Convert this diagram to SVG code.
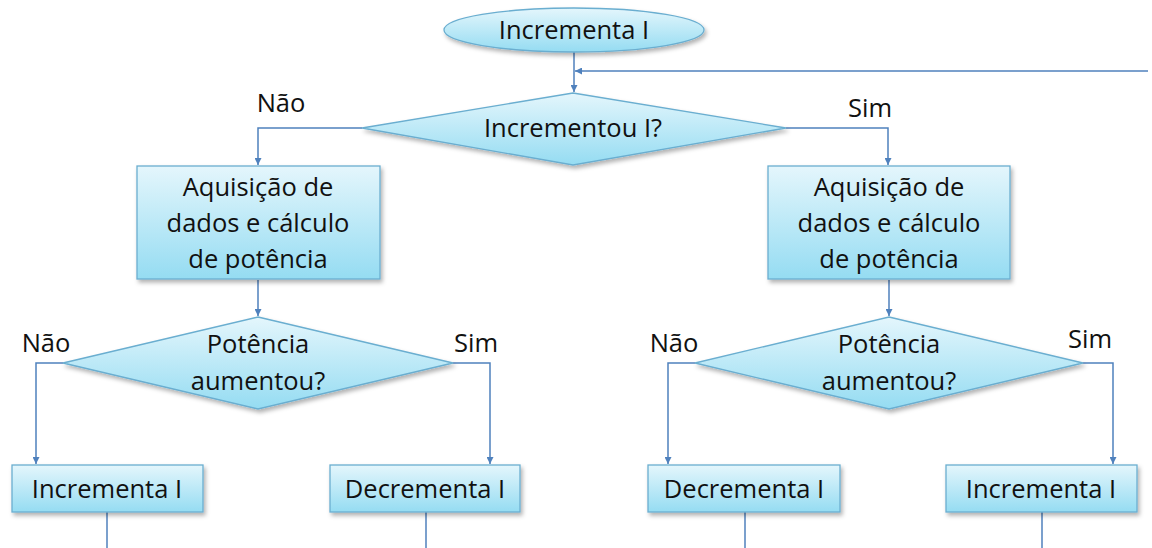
<svg xmlns="http://www.w3.org/2000/svg" width="1152" height="548" viewBox="0 0 1152 548">
<style>
.n{stroke:#6aaed0;stroke-width:1.3}
.t{font-family:"Open Sans","Liberation Sans",sans-serif;font-size:25.5px;fill:#111;text-anchor:middle}
.l{font-family:"Open Sans","Liberation Sans",sans-serif;font-size:25.5px;fill:#111;text-anchor:middle}
.c{fill:none;stroke:#4f81bd;stroke-width:1.5}
</style>
<defs>
<linearGradient id="g" x1="0" y1="0" x2="0" y2="1">
<stop offset="0" stop-color="#e4f6fc"/>
<stop offset="1" stop-color="#95dcf2"/>
</linearGradient>
<filter id="s" x="-10%" y="-10%" width="130%" height="140%">
<feDropShadow dx="2" dy="3" stdDeviation="2" flood-color="#000" flood-opacity="0.3"/>
</filter>
<marker id="a" viewBox="0 0 10 10" refX="10" refY="5" markerWidth="7" markerHeight="7" markerUnits="userSpaceOnUse" orient="auto">
<path d="M0,0L10,5L0,10z" fill="#4f81bd"/>
</marker>
</defs>
<g id="connectors">
<path class="c" d="M574,52V92" marker-end="url(#a)"/>
<path class="c" d="M1148,71H575" marker-end="url(#a)"/>
<path class="c" d="M362,128H258V165" marker-end="url(#a)"/>
<path class="c" d="M786,128H888V165" marker-end="url(#a)"/>
<path class="c" d="M258,280V316" marker-end="url(#a)"/>
<path class="c" d="M889,280V316" marker-end="url(#a)"/>
<path class="c" d="M63,363H36V464" marker-end="url(#a)"/>
<path class="c" d="M453,363H490V464" marker-end="url(#a)"/>
<path class="c" d="M695,363H668V464" marker-end="url(#a)"/>
<path class="c" d="M1083,363H1113V464" marker-end="url(#a)"/>
<path class="c" d="M107,512V548"/>
<path class="c" d="M426,512V548"/>
<path class="c" d="M745,512V548"/>
<path class="c" d="M1042,512V548"/>
<text class="l" x="281" y="112">Não</text>
<text class="l" x="870" y="117">Sim</text>
<text class="l" x="46" y="352">Não</text>
<text class="l" x="476" y="352">Sim</text>
<text class="l" x="674" y="352">Não</text>
<text class="l" x="1090" y="348">Sim</text>
</g>
<g id="start">
<ellipse class="n" cx="574" cy="30" rx="130" ry="22" fill="url(#g)" filter="url(#s)"/>
<text class="t" x="574" y="39">Incrementa I</text>
</g>
<g id="dec1">
<polygon class="n" points="573,93 786,128 573,165 362,128" fill="url(#g)" filter="url(#s)"/>
<text class="t" x="573" y="137">Incrementou I?</text>
</g>
<g id="proc-left">
<rect class="n" x="137" y="166" width="243" height="113" fill="url(#g)" filter="url(#s)"/>
<text class="t" x="258" y="196">Aquisição de</text>
<text class="t" x="258" y="232">dados e cálculo</text>
<text class="t" x="258" y="268">de potência</text>
</g>
<g id="proc-right">
<rect class="n" x="768" y="166" width="242" height="113" fill="url(#g)" filter="url(#s)"/>
<text class="t" x="889" y="196">Aquisição de</text>
<text class="t" x="889" y="232">dados e cálculo</text>
<text class="t" x="889" y="268">de potência</text>
</g>
<g id="dec-left">
<polygon class="n" points="258,317 453,363 258,409 63,363" fill="url(#g)" filter="url(#s)"/>
<text class="t" x="258" y="353">Potência</text>
<text class="t" x="258" y="390">aumentou?</text>
</g>
<g id="dec-right">
<polygon class="n" points="889,317 1083,363 889,409 695,363" fill="url(#g)" filter="url(#s)"/>
<text class="t" x="889" y="353">Potência</text>
<text class="t" x="889" y="390">aumentou?</text>
</g>
<g id="inc-ll">
<rect class="n" x="12" y="465" width="191" height="47" fill="url(#g)" filter="url(#s)"/>
<text class="t" x="107" y="498">Incrementa I</text>
</g>
<g id="dec-lr">
<rect class="n" x="330" y="465" width="190" height="47" fill="url(#g)" filter="url(#s)"/>
<text class="t" x="425" y="498">Decrementa I</text>
</g>
<g id="dec-rl">
<rect class="n" x="648" y="465" width="192" height="47" fill="url(#g)" filter="url(#s)"/>
<text class="t" x="744" y="498">Decrementa I</text>
</g>
<g id="inc-rr">
<rect class="n" x="946" y="465" width="191" height="47" fill="url(#g)" filter="url(#s)"/>
<text class="t" x="1041" y="498">Incrementa I</text>
</g>
</svg>
